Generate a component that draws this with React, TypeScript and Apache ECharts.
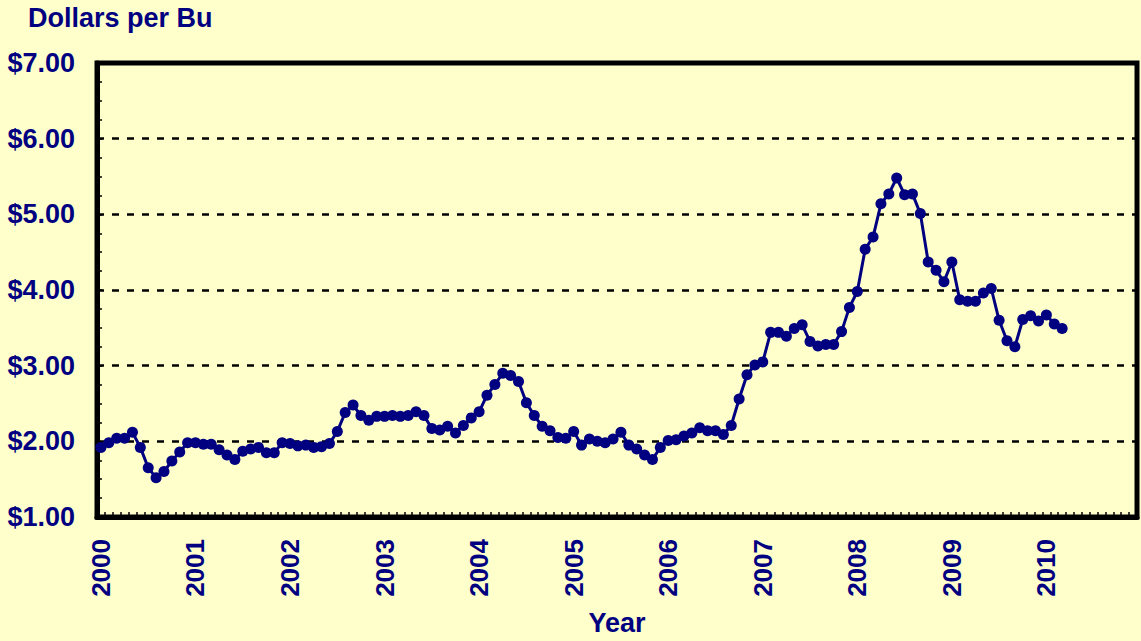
import React, { useEffect, useRef } from "react";
import * as echarts from "echarts";

const YEARS = [2000, 2001, 2002, 2003, 2004, 2005, 2006, 2007, 2008, 2009, 2010];
const MONTHS = ["01", "02", "03", "04", "05", "06", "07", "08", "09", "10", "11", "12"];

const price2000 = [1.92, 1.98, 2.04, 2.04, 2.12, 1.92, 1.65, 1.52, 1.6, 1.74, 1.86, 1.98];
const price2001 = [1.98, 1.96, 1.96, 1.89, 1.82, 1.76, 1.87, 1.9, 1.92, 1.85, 1.85, 1.98];
const price2002 = [1.97, 1.94, 1.95, 1.92, 1.93, 1.97, 2.13, 2.38, 2.48, 2.34, 2.28, 2.33];
const price2003 = [2.33, 2.34, 2.33, 2.34, 2.39, 2.34, 2.17, 2.15, 2.2, 2.11, 2.21, 2.31];
const price2004 = [2.39, 2.61, 2.75, 2.9, 2.87, 2.79, 2.51, 2.34, 2.2, 2.14, 2.05, 2.04];
const price2005 = [2.13, 1.95, 2.03, 2.0, 1.98, 2.03, 2.12, 1.95, 1.9, 1.82, 1.76, 1.92];
const price2006 = [2.01, 2.02, 2.07, 2.11, 2.18, 2.14, 2.14, 2.09, 2.21, 2.56, 2.88, 3.01];
const price2007 = [3.05, 3.44, 3.44, 3.39, 3.49, 3.54, 3.32, 3.26, 3.28, 3.28, 3.45, 3.77];
const price2008 = [3.98, 4.54, 4.7, 5.14, 5.27, 5.48, 5.26, 5.27, 5.01, 4.37, 4.26, 4.11];
const price2009 = [4.37, 3.87, 3.85, 3.85, 3.96, 4.02, 3.6, 3.33, 3.25, 3.61, 3.66, 3.59];
const price2010 = [3.67, 3.55, 3.49];

const Y_MIN = 1;
const Y_MAX = 7;
const Y_STEP = 1;

const NAVY = "#000080";
const FONT = "'Liberation Sans', Arial, sans-serif";

export default function App() {
  const ref = useRef<HTMLDivElement>(null);

  useEffect(() => {
    document.body.style.margin = "0";
    document.body.style.background = "#FFFFCC";
    if (!ref.current) return;
    const chart = echarts.init(ref.current, undefined, { renderer: "svg" });

    const categories: string[] = [];
    YEARS.forEach((y) => MONTHS.forEach((m) => categories.push(`${y}-${m}`)));
    const prices = [
      ...price2000, ...price2001, ...price2002, ...price2003, ...price2004,
      ...price2005, ...price2006, ...price2007, ...price2008, ...price2009, ...price2010,
    ];

    chart.setOption({
      animation: false,
      backgroundColor: "#FFFFCC",
      textStyle: { fontFamily: FONT },
      graphic: [
        {
          type: "text",
          left: 28,
          top: 4,
          style: {
            text: "Dollars per Bu",
            fill: NAVY,
            font: `bold 27px ${FONT}`,
          },
        },
      ],
      grid: {
        left: 97,
        right: 4,
        top: 63,
        bottom: 124,
        show: true,
        borderColor: "#000",
        borderWidth: 5,
        backgroundColor: "transparent",
      },
      xAxis: {
        type: "category",
        data: categories,
        boundaryGap: true,
        name: "Year",
        nameLocation: "middle",
        nameGap: 92,
        nameTextStyle: { color: NAVY, fontWeight: "bold", fontSize: 27, fontFamily: FONT },
        axisLine: { show: true, lineStyle: { color: "#000", width: 5 } },
        axisTick: { show: true, inside: true, interval: 0, length: 5, lineStyle: { color: "#000", width: 1.5 } },
        axisLabel: {
          interval: (i: number) => i % 12 === 0,
          rotate: 90,
          margin: 22,
          color: NAVY,
          fontWeight: "bold",
          fontSize: 26,
          fontFamily: FONT,
          formatter: (v: string) => v.slice(0, 4),
        },
        splitLine: { show: false },
      },
      yAxis: {
        type: "value",
        min: Y_MIN,
        max: Y_MAX,
        interval: Y_STEP,
        axisLine: { show: true, lineStyle: { color: "#000", width: 5 } },
        axisTick: { show: true, inside: true, length: 5, lineStyle: { color: "#000", width: 1.5 } },
        minorTick: { show: true, splitNumber: 4, length: 5, lineStyle: { color: "#000", width: 1.5 } },
        axisLabel: {
          margin: 22,
          color: NAVY,
          fontWeight: "bold",
          fontSize: 27,
          fontFamily: FONT,
          formatter: (v: number) => "$" + v.toFixed(2),
        },
        splitLine: { show: true, lineStyle: { color: "#000", type: [7, 8], width: 2.5 } },
      },
      series: [
        {
          type: "line",
          data: prices,
          symbol: "circle",
          symbolSize: 11,
          showSymbol: true,
          showAllSymbol: true,
          lineStyle: { color: NAVY, width: 3 },
          itemStyle: { color: NAVY },
          z: 5,
        },
      ],
    });

    return () => chart.dispose();
  }, []);

  return <div ref={ref} style={{ width: 1141, height: 641 }} />;
}
